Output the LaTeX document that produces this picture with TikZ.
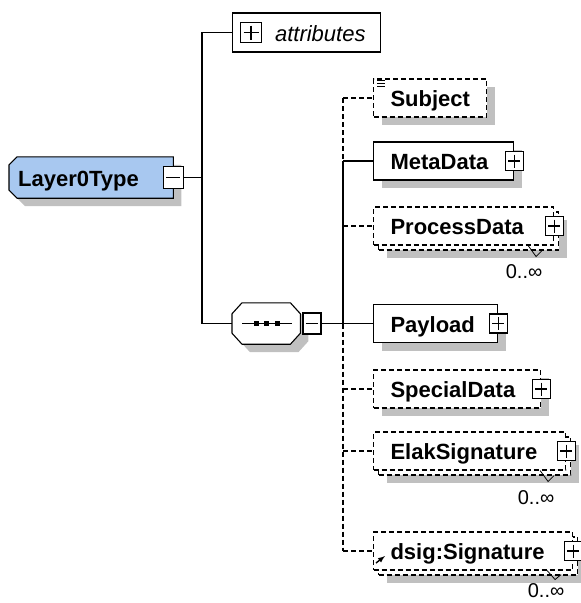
\documentclass[tikz,border=0pt]{standalone}
\usepackage{fontspec}
\setmainfont{Liberation Sans}
\usetikzlibrary{shadows}

\pgfdeclarelayer{back}
\pgfsetlayers{back,main}

\definecolor{typeblue}{RGB}{168,200,240}
\definecolor{shadowgray}{RGB}{192,192,192}

\newcommand\xsdfont{\fontsize{22}{24}\selectfont\hyphenpenalty=10000 }

\tikzset{
    link/.style={line width=1.1pt},
    optline/.style={dash pattern=on 5pt off 3pt},
    elem/.style={draw, fill=white, line width=1.1pt, anchor=west, minimum height=38pt,
        inner xsep=17pt, inner ysep=0pt, text height=18.5pt, text depth=1.5pt,
        align=left, font=\xsdfont\bfseries},
    holder/.style={anchor=west, inner ysep=0pt, minimum height=41pt},
    shadowed/.style={general shadow={draw=none, fill=shadowgray, shadow xshift=8pt, shadow yshift=-8pt}},
    manybox/.style={general shadow={draw=none, fill=shadowgray, shadow xshift=13pt, shadow yshift=-13pt},
        general shadow={draw=black, fill=white, line width=1.1pt, optline, shadow xshift=5pt, shadow yshift=-5pt}},
    xbox/.style={draw, fill=white, line width=1.1pt, inner sep=0pt, minimum width=18pt, minimum height=19pt},
    plusbox/.style={xbox, path picture={
        \draw[line width=1.1pt] ([xshift=3pt]path picture bounding box.west) -- ([xshift=-3pt]path picture bounding box.east)
            ([yshift=-3pt]path picture bounding box.north) -- ([yshift=3pt]path picture bounding box.south);}},
    minusbox/.style={xbox, path picture={
        \draw[line width=1.1pt] ([xshift=3pt]path picture bounding box.west) -- ([xshift=-3pt]path picture bounding box.east);}},
    mult/.style={inner sep=0pt, font=\fontsize{20}{22}\selectfont},
    tickmark/.style={line width=0.8pt},
}

\begin{document}
\begin{tikzpicture}[x=1pt, y=-1pt]

    \useasboundingbox (0,0) rectangle (581,603);

    \coordinate (trunk) at (202,0);
    \coordinate (bus) at (343,0);

    % complex type
    \node[holder, inner xsep=9pt, text width=146pt, text height=18.5pt, text depth=1.5pt,
        align=left, font=\xsdfont\bfseries] (root) at (9,177.5) {Layer0Type};
    \begin{pgfonlayer}{back}
        \draw[link, shadowed, fill=typeblue] ([shift={(8,0)}]root.north west) -- (root.north east)
            -- (root.south east) -- ([shift={(8,0)}]root.south west)
            -- ([shift={(0,-8)}]root.south west) -- ([shift={(0,8)}]root.north west) -- cycle;
    \end{pgfonlayer}
    \node[minusbox, minimum width=20pt, minimum height=22pt] (root-x) at (root.east) {};

    % attributes
    \node[draw, fill=white, line width=1.1pt, anchor=west, minimum height=39pt, inner xsep=15pt, inner ysep=0pt,
        text width=118pt, align=right, text height=18.5pt, text depth=1.5pt, font=\xsdfont\itshape] (attr) at (232,32.5) {attributes};
    \node[plusbox, minimum width=21pt, minimum height=20pt] (attr-x) at ([xshift=19pt]attr.west) {};

    % sequence
    \node[holder, inner xsep=0pt, minimum width=68pt] (seq) at (232,323.5) {};
    \begin{pgfonlayer}{back}
        \draw[link, shadowed, fill=white] ([shift={(10,0)}]seq.north west) -- ([shift={(-10,0)}]seq.north east)
            -- ([shift={(0,11)}]seq.north east) -- ([shift={(0,-11)}]seq.south east)
            -- ([shift={(-10,0)}]seq.south east) -- ([shift={(10,0)}]seq.south west)
            -- ([shift={(0,-11)}]seq.south west) -- ([shift={(0,11)}]seq.north west) -- cycle;
    \end{pgfonlayer}
    \draw[link] ([shift={(-24,0)}]seq.center) -- ([shift={(26,0)}]seq.center);
    \fill ([shift={(-10,0)}]seq.center) +(-2.5,-2.5) rectangle +(2.5,2.5);
    \fill ([shift={(0.5,0)}]seq.center) +(-2.5,-2.5) rectangle +(2.5,2.5);
    \fill ([shift={(11,0)}]seq.center) +(-2.5,-2.5) rectangle +(2.5,2.5);
    \node[minusbox, minimum height=21pt, anchor=west] (seq-x) at ([xshift=2pt]seq.east) {};

    \draw[link] (root-x.east) -- (root-x.east -| trunk);
    \draw[link] (attr.west) -| (seq.west -| trunk) -- (seq.west);

    % children
    \node[elem, optline, shadowed, text width=79pt] (sj) at (373,98) {Subject};
    \node[elem, shadowed, text width=106pt] (md) at (373,161) {MetaData};
    \node[elem, optline, manybox, text width=146pt] (pd) at (373,226) {ProcessData};
    \node[elem, shadowed, text width=90pt] (pl) at (373,323.5) {Payload};
    \node[elem, optline, shadowed, text width=133pt] (sd) at (373,389) {SpecialData};
    \node[elem, optline, manybox, text width=158pt] (es) at (373,451) {ElakSignature};
    \node[elem, optline, manybox, text width=165pt] (ds) at (373,551) {dsig:Signature};

    \node[plusbox] (md-x) at (md.east) {};
    \node[plusbox] (pd-x) at (pd.east) {};
    \node[plusbox] (pl-x) at (pl.east) {};
    \node[plusbox] (sd-x) at (sd.east) {};
    \node[plusbox] (es-x) at (es.east) {};
    \node[plusbox] (ds-x) at (ds.east) {};

    % occurrences
    \node[mult] (pd-n) at ([shift={(-30,26)}]pd.south east) {0..∞};
    \node[mult] (es-n) at ([shift={(-30,27)}]es.south east) {0..∞};
    \node[mult] (ds-n) at ([shift={(-27,20)}]ds.south east) {0..∞};
    \draw[tickmark] ([xshift=-26pt]pd.south east) -- ++(8,11) -- ++(6,-6);
    \draw[tickmark] ([xshift=-26pt]es.south east) -- ++(8,11) -- ++(6,-6);
    \draw[tickmark] ([xshift=-26pt]ds.south east) -- ++(8,9) -- ++(6,-5);

    % small icons
    \draw[tickmark] ([shift={(4,2)}]sj.north west) -- ++(8,0);
    \draw[tickmark] ([shift={(4,5)}]sj.north west) -- ++(8,0);
    \draw[tickmark] ([shift={(4,8)}]sj.north west) -- ++(8,0);
    \draw[line width=1.4pt, -latex] ([shift={(3,12)}]ds.west) -- ++(9,-7);

    % child connectors
    \draw[link] (seq-x.east) -- (pl.west);
    \draw[link, optline] (bus |- sj.west) -- (bus |- md.west);
    \draw[link] (bus |- md.west) -- (bus |- pl.west);
    \draw[link, optline] (bus |- pl.west) -- (bus |- ds.west);
    \draw[link, optline] (bus |- sj.west) -- (sj.west);
    \draw[link] (bus |- md.west) -- (md.west);
    \draw[link, optline] (bus |- pd.west) -- (pd.west);
    \draw[link, optline] (bus |- sd.west) -- (sd.west);
    \draw[link, optline] (bus |- es.west) -- (es.west);
    \draw[link, optline] (bus |- ds.west) -- (ds.west);
\end{tikzpicture}
\end{document}
